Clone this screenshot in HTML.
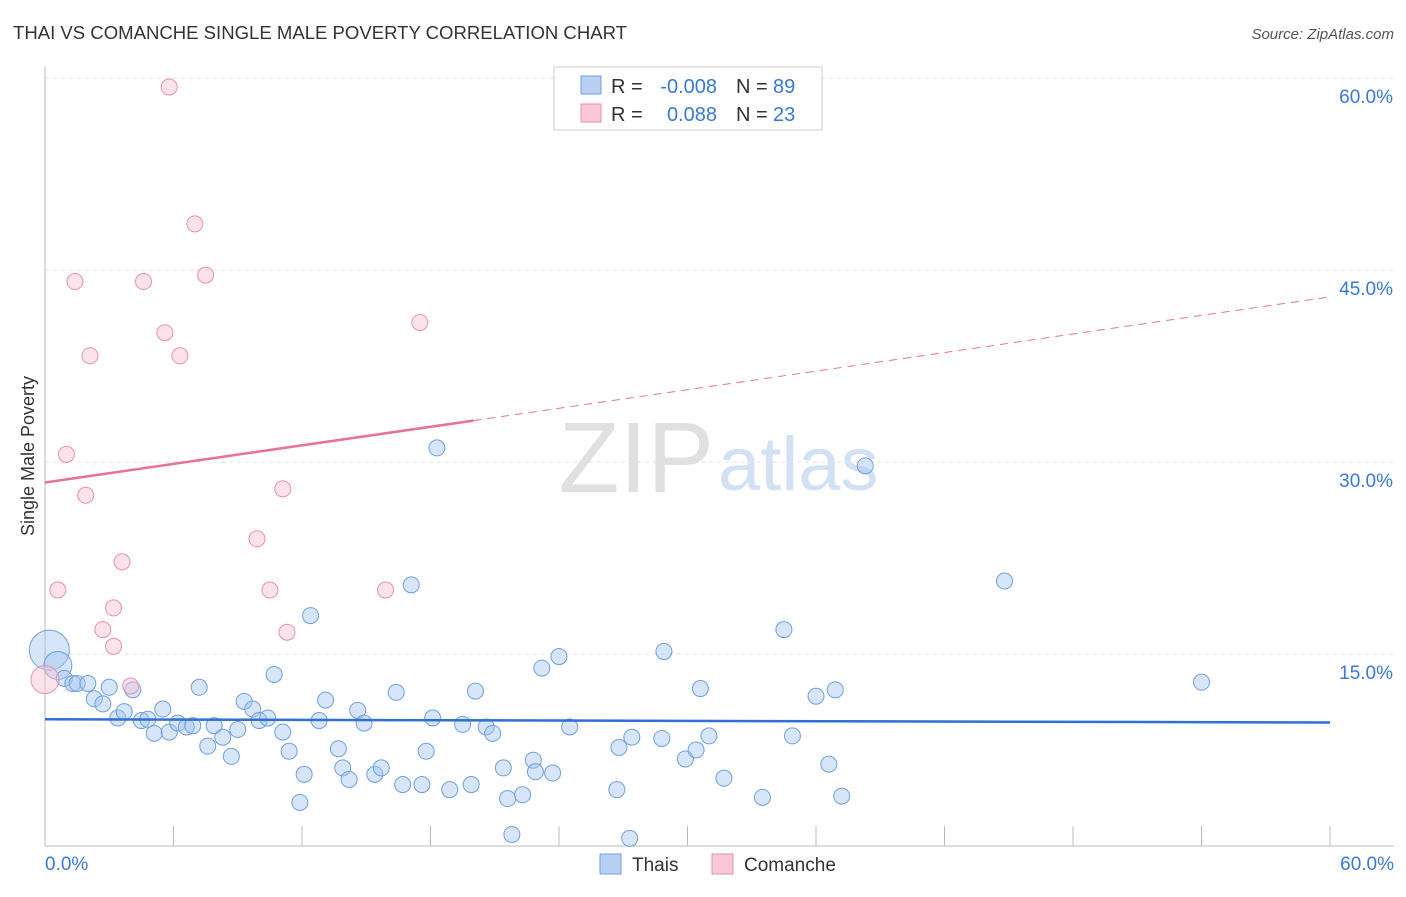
<!DOCTYPE html>
<html><head><meta charset="utf-8">
<style>
body{margin:0;background:#fff;font-family:"Liberation Sans",sans-serif;}
svg text{font-family:"Liberation Sans",sans-serif;}
</style></head>
<body>
<svg width="1406" height="892" xmlns="http://www.w3.org/2000/svg">
<text x="13" y="39" font-size="18" fill="#333" textLength="614" lengthAdjust="spacingAndGlyphs">THAI VS COMANCHE SINGLE MALE POVERTY CORRELATION CHART</text>
<text x="1394" y="39" font-size="15" fill="#555" text-anchor="end" font-style="italic">Source: ZipAtlas.com</text>
<text x="714" y="492" font-size="100" text-anchor="end" fill="#e0e0e0" font-family="Liberation Serif">ZIP</text>
<text x="718" y="490" font-size="76" fill="#d3e1f5">atlas</text>
<g id="grid"></g>
<g id="axes"></g>
<g id="marks"></g>
<text transform="translate(34,456) rotate(-90)" font-size="18" fill="#333" text-anchor="middle">Single Male Poverty</text>
<g>
<rect x="554" y="67" width="268" height="63" fill="#fff" stroke="#ccc"/>
<rect x="581" y="76" width="20" height="18" fill="#b8d1f3" stroke="#6fa0e0"/>
<rect x="581" y="104" width="20" height="18" fill="#f9c7d6" stroke="#e890b0"/>
<text x="611" y="93" font-size="20" fill="#333">R =</text>
<text x="717" y="93" font-size="20" fill="#3a78d8" text-anchor="end">-0.008</text>
<text x="736" y="93" font-size="20" fill="#333">N =</text>
<text x="773" y="93" font-size="20" fill="#3a78d8">89</text>
<text x="611" y="121" font-size="20" fill="#333">R =</text>
<text x="717" y="121" font-size="20" fill="#3a78d8" text-anchor="end">0.088</text>
<text x="736" y="121" font-size="20" fill="#333">N =</text>
<text x="773" y="121" font-size="20" fill="#3a78d8">23</text>
</g>
<g>
<rect x="600" y="854" width="21" height="20" fill="#b8d1f3" stroke="#6fa0e0"/>
<text x="632" y="871" font-size="19" fill="#333">Thais</text>
<rect x="712" y="854" width="21" height="20" fill="#f9c7d6" stroke="#e890b0"/>
<text x="744" y="871" font-size="19" fill="#333">Comanche</text>
</g>
</svg>
<script>
const yTicks=[15,30,45,60];
const yTickLabels=["15.0%","30.0%","45.0%","60.0%"];
const xLabels=["0.0%","60.0%"];
const thaiX=[0.2,0.6,0.9,1.3,1.5,2.0,2.3,2.7,3.0,3.4,3.7,4.1,4.5,4.8,5.1,5.5,5.8,6.2,6.6,6.9,7.2,7.6,7.9,8.3,8.7,9.0,9.3,9.7,10.0,10.4,10.7,11.1,11.4,11.9,12.1,12.4,12.8,13.1,13.7,13.9,14.2,14.6,14.9,15.4,15.7,16.4,16.7,17.1,17.6,17.8,18.1,18.3,18.9,19.5,19.9,20.1,20.6,20.9,21.4,21.6,21.8,22.3,22.8,22.9,23.2,23.7,24.0,24.5,26.7,26.8,27.3,27.4,28.8,28.9,29.9,30.4,30.6,31.0,31.7,33.5,34.5,34.9,36.0,36.6,36.9,37.2,38.3,44.8,54.0];
const thaiY=[15.3,14.1,13.1,12.7,12.7,12.7,11.5,11.1,12.4,10.0,10.5,12.2,9.8,9.9,8.8,10.7,8.9,9.6,9.3,9.4,12.4,7.8,9.4,8.5,7.0,9.1,11.3,10.7,9.8,10.0,13.4,8.9,7.4,3.4,5.6,18.0,9.8,11.4,7.6,6.1,5.2,10.6,9.6,5.6,6.1,12.0,4.8,20.4,4.8,7.4,10.0,31.1,4.4,9.5,4.8,12.1,9.3,8.8,6.1,3.7,0.9,4.0,6.7,5.8,13.9,5.7,14.8,9.3,4.4,7.7,0.6,8.5,8.4,15.2,6.8,7.5,12.3,8.6,5.3,3.8,16.9,8.6,11.7,6.4,12.2,3.9,29.7,20.7,12.8];
const comX=[0.0,0.6,1.0,1.4,1.9,2.1,2.7,3.2,3.2,3.6,4.0,4.6,5.6,5.8,6.3,7.0,7.5,9.9,10.5,11.1,11.3,15.9,17.5];
const comY=[13.0,20.0,30.6,44.1,27.4,38.3,16.9,18.6,15.6,22.2,12.5,44.1,40.1,59.3,38.3,48.6,44.6,24.0,20.0,27.9,16.7,20.0,40.9];
const thaiLine=[9.9,9.65];
const comLine=[28.4,42.9];
const NS="http://www.w3.org/2000/svg";
const X=v=>45+v*(1285/60), Y=v=>846-v*12.8;
function mk(t,a,p){const e=document.createElementNS(NS,t);for(const k in a)e.setAttribute(k,a[k]);p.appendChild(e);return e;}
const g=document.getElementById('grid'),ax=document.getElementById('axes'),m=document.getElementById('marks');
yTicks.forEach((t,i)=>{
 const l=mk('line',{x1:45,x2:1394,y1:Y(t),y2:Y(t),stroke:'#e2e2e2','stroke-dasharray':'4,4'},g);
 
 
 const tx=mk('text',{x:1393,y:Y(t)+25,'font-size':19,fill:'#3a78d8','text-anchor':'end'},ax);
 tx.textContent=yTickLabels[i];
 
 
});
const yl=mk('line',{x1:45,x2:45,y1:67,y2:846,stroke:'#bbb'},ax);


const xl=mk('line',{x1:45,x2:1394,y1:846,y2:846,stroke:'#bbb'},ax);


for(let i=0;i<=10;i++){const t=mk('line',{x1:X(i*6),x2:X(i*6),y1:826,y2:846,stroke:'#bbb'},ax);
 
 }
[[0,'start',45],[60,'end',1394]].forEach((d,i)=>{const t=mk('text',{x:d[2],y:870,'font-size':19,fill:'#3a78d8','text-anchor':d[1]},ax);t.textContent=xLabels[i];
 
 });
const big={0:20,1:14};
thaiX.forEach((x,i)=>{const c=mk('circle',{cx:X(x),cy:Y(thaiY[i]),r:big[i]||8,fill:'rgba(165,198,240,0.45)',stroke:'#6fa0e0','stroke-width':1},m);
 
 });
comX.forEach((x,i)=>{const c=mk('circle',{cx:X(x),cy:Y(comY[i]),r:i==0?14:8,fill:'rgba(248,190,208,0.45)',stroke:'#e890b0','stroke-width':1},m);
 
 });
const tl=mk('line',{x1:X(0),y1:Y(thaiLine[0]),x2:X(60),y2:Y(thaiLine[1]),stroke:'#2f6fd6','stroke-width':2.5},m);


const cy=x=>comLine[0]+(comLine[1]-comLine[0])*x/60;
const c1=mk('line',{x1:X(0),y1:Y(cy(0)),x2:X(20),y2:Y(cy(20)),stroke:'#e8709a','stroke-width':2.5},m);


const c2=mk('line',{x1:X(20),y1:Y(cy(20)),x2:X(60),y2:Y(cy(60)),stroke:'#e8709a','stroke-width':1,'stroke-dasharray':'8,6'},m);


</script>
</body></html>
